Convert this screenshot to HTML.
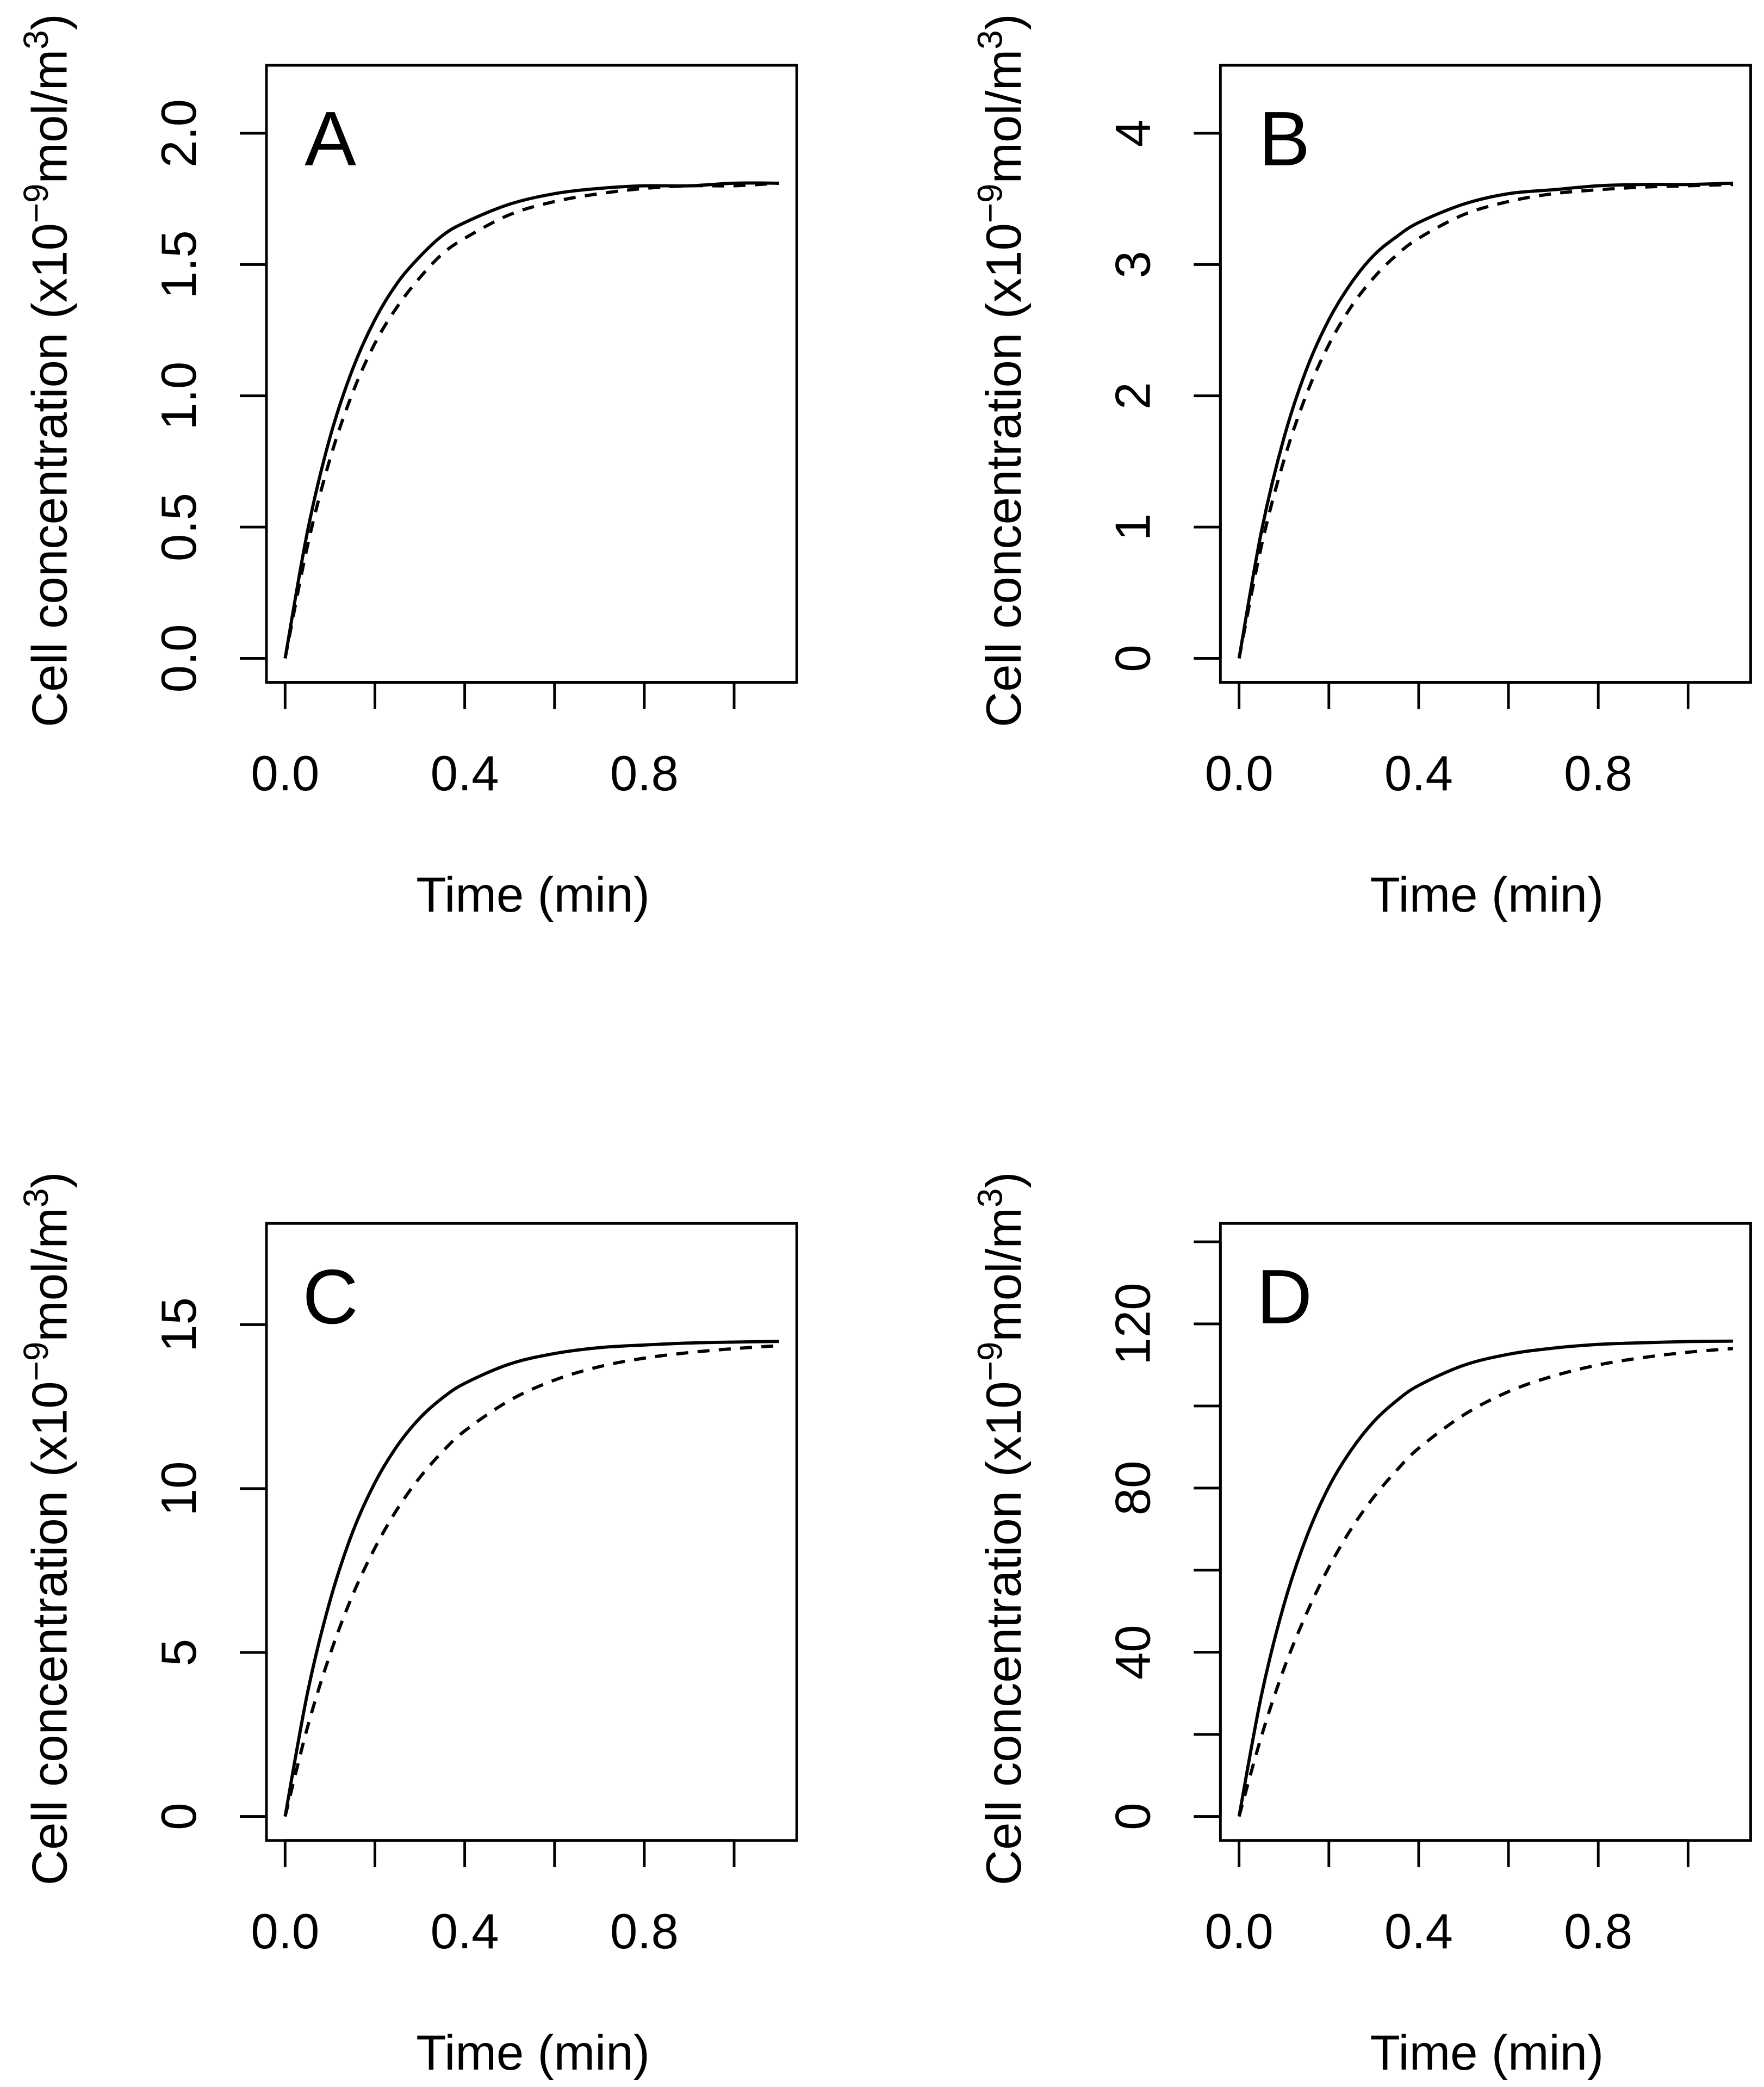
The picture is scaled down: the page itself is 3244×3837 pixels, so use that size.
<!DOCTYPE html>
<html><head><meta charset="utf-8"><style>html,body{margin:0;padding:0;background:#fff}svg{display:block}</style></head>
<body>
<svg id="fig" xmlns="http://www.w3.org/2000/svg" width="3244" height="3837" viewBox="0 0 1324 1566" font-family="Liberation Sans, sans-serif"></svg>
<script>
const times = [0,0.05,0.1,0.15,0.2,0.25,0.3,0.35,0.4,0.5,0.6,0.7,0.8,0.9,1.0,1.1];
const aSolid = [0,0.485,0.842,1.10,1.29,1.43,1.53,1.61,1.66,1.73,1.77,1.79,1.80,1.80,1.81,1.81];
const aDashed = [0,0.43,0.76,1.01,1.20,1.34,1.45,1.54,1.60,1.69,1.74,1.77,1.79,1.80,1.80,1.81];
const bSolid = [0,0.97,1.68,2.20,2.58,2.86,3.07,3.21,3.32,3.46,3.54,3.57,3.60,3.61,3.61,3.62];
const bDashed = [0,0.86,1.51,2.01,2.39,2.68,2.90,3.07,3.20,3.38,3.48,3.54,3.57,3.59,3.60,3.61];
const cSolid = [0,3.78,6.58,8.66,10.18,11.31,12.15,12.76,13.21,13.80,14.12,14.30,14.38,14.44,14.47,14.49];
const cDashed = [0,2.73,4.94,6.74,8.19,9.38,10.34,11.12,11.76,12.69,13.31,13.72,13.98,14.15,14.27,14.36];
const dSolid = [0,29.6,51.6,68.0,80.3,89.3,96.2,101.2,105.0,109.9,112.6,114.1,115.0,115.4,115.7,115.8];
const dDashed = [0,19.6,36.0,49.4,60.7,70.1,77.8,84.2,89.7,97.8,103.5,107.3,110.0,111.8,113.1,114.0];
const xTicks = [0,0.2,0.4,0.6,0.8,1.0];
const xTickLabels = ["0.0","0.4","0.8"];
const aYTicks = [0,0.5,1.0,1.5,2.0];
const aYLabels = ["0.0","0.5","1.0","1.5","2.0"];
const bYTicks = [0,1,2,3,4];
const bYLabels = ["0","1","2","3","4"];
const cYTicks = [0,5,10,15];
const cYLabels = ["0","5","10","15"];
const dYTicks = [0,20,40,60,80,100,120,140];
const dYLabels = ["0","40","80","120"];

const NS = "http://www.w3.org/2000/svg";
const svg = document.getElementById('fig');
function mk(tag, attrs, parent){
  const e = document.createElementNS(NS, tag);
  for (const k in attrs) e.setAttribute(k, attrs[k]);
  (parent||svg).appendChild(e);
  return e;
}
function smoothPath(pts){
  let d = 'M' + pts[0][0].toFixed(2) + ' ' + pts[0][1].toFixed(2);
  for (let i = 0; i < pts.length - 1; i++){
    const p0 = pts[Math.max(0,i-1)], p1 = pts[i], p2 = pts[i+1], p3 = pts[Math.min(pts.length-1,i+2)];
    const c1x = p1[0] + (p2[0]-p0[0])/6, c1y = p1[1] + (p2[1]-p0[1])/6;
    const c2x = p2[0] - (p3[0]-p1[0])/6, c2y = p2[1] - (p3[1]-p1[1])/6;
    d += ` C${c1x.toFixed(2)} ${c1y.toFixed(2)} ${c2x.toFixed(2)} ${c2y.toFixed(2)} ${p2[0].toFixed(2)} ${p2[1].toFixed(2)}`;
  }
  return d;
}
const panels = [
  {id:'a', letter:'A', dx:0, dy:0, y0px:494, yUnitPx:98.5/0.5, yt:aYTicks, yl:aYLabels, s:aSolid, d:aDashed},
  {id:'b', letter:'B', dx:716, dy:0, y0px:494, yUnitPx:98.5, yt:bYTicks, yl:bYLabels, s:bSolid, d:bDashed},
  {id:'c', letter:'C', dx:0, dy:869, y0px:494, yUnitPx:123/5, yt:cYTicks, yl:cYLabels, s:cSolid, d:cDashed},
  {id:'d', letter:'D', dx:716, dy:869, y0px:494, yUnitPx:61.6/20, yt:dYTicks, yl:dYLabels, s:dSolid, d:dDashed}
];
panels.forEach(p=>{
  const g = mk('g', {transform:`translate(${p.dx},${p.dy})`});
  
  
  const xS = t => 214 + t*(67.4/0.2);
  const yS = v => p.y0px - v*p.yUnitPx;
  const box = mk('rect', {x:200, y:49, width:398, height:463, fill:'none', stroke:'#000', 'stroke-width':2}, g);
  
  
  xTicks.forEach(t=>{
    const l = mk('line', {x1:xS(t), x2:xS(t), y1:512, y2:532, stroke:'#000', 'stroke-width':2}, g);
    
    
  });
  const xa = mk('line', {x1:xS(0), x2:xS(1.0), y1:512, y2:512, stroke:'#000', 'stroke-width':2}, g);
  
  
  xTickLabels.forEach(s=>{
    const t = mk('text', {x:xS(parseFloat(s)), y:593, 'font-size':37, 'text-anchor':'middle'}, g);
    t.textContent = s;
    
    
  });
  p.yt.forEach(v=>{
    const l = mk('line', {x1:180, x2:200, y1:yS(v), y2:yS(v), stroke:'#000', 'stroke-width':2}, g);
    
    
  });
  const ya = mk('line', {x1:200, x2:200, y1:yS(p.yt[0]), y2:yS(p.yt[p.yt.length-1]), stroke:'#000', 'stroke-width':2}, g);
  
  
  p.yl.forEach(s=>{
    const y = yS(parseFloat(s));
    const t = mk('text', {x:0, y:0, 'font-size':37, 'text-anchor':'middle', transform:`translate(147,${y}) rotate(-90)`}, g);
    t.textContent = s;
    
    
  });
  const xt = mk('text', {x:400, y:684, 'font-size':37, 'text-anchor':'middle'}, g);
  xt.textContent = 'Time (min)';
  
  
  const yt = mk('text', {x:0, y:0, 'font-size':37, 'text-anchor':'middle', transform:'translate(50,278) rotate(-90)'}, g);
  
  
  yt.appendChild(document.createTextNode('Cell concentration (x10'));
  const s1 = mk('tspan', {dy:-14, 'font-size':26}, yt); s1.textContent = '\u22129';
  const s2 = mk('tspan', {dy:14}, yt); s2.textContent = 'mol/m';
  const s3 = mk('tspan', {dy:-14, 'font-size':26}, yt); s3.textContent = '3';
  const s4 = mk('tspan', {dy:14}, yt); s4.textContent = ')';
  const lt = mk('text', {x:248, y:124, 'font-size':58, 'text-anchor':'middle'}, g);
  lt.textContent = p.letter;
  
  
  const path = arr => smoothPath(arr.map((v,i)=>[xS(times[i]), yS(v)]));
  const dl = mk('path', {d:path(p.d), fill:'none', stroke:'#000', 'stroke-width':2.4, 'stroke-dasharray':'9 7', 'stroke-linejoin':'round'}, g);
  
  
  const sl = mk('path', {d:path(p.s), fill:'none', stroke:'#000', 'stroke-width':2.4, 'stroke-linejoin':'round'}, g);
  
  
});
</script>
</body></html>
